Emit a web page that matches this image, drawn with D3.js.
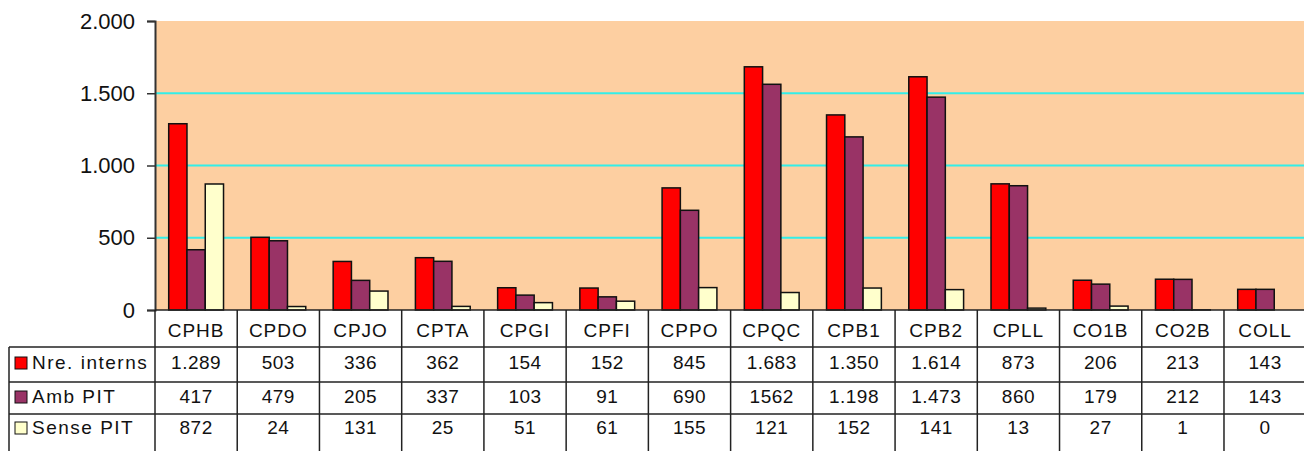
<!DOCTYPE html>
<html lang="ca">
<head>
<meta charset="utf-8" />
<title>Interns per centre</title>
<script src="https://cdn.jsdelivr.net/npm/d3@7"></script>
<style>
  body { margin: 0; background: #fff; }
  svg text { font-family: "Liberation Sans", Arial, sans-serif; fill: #111; }
</style>
</head>
<body>
<svg id="chart" width="1304" height="451"></svg>
<script>
// dades
var categories = ["CPHB", "CPDO", "CPJO", "CPTA", "CPGI", "CPFI", "CPPO", "CPQC", "CPB1", "CPB2", "CPLL", "CO1B", "CO2B", "COLL"];
var seriesNames = ["Nre. interns", "Amb PIT", "Sense PIT"];
var nreInterns = [1289, 503, 336, 362, 154, 152, 845, 1683, 1350, 1614, 873, 206, 213, 143];
var ambPIT     = [417, 479, 205, 337, 103, 91, 690, 1562, 1198, 1473, 860, 179, 212, 143];
var sensePIT   = [872, 24, 131, 25, 51, 61, 155, 121, 152, 141, 13, 27, 1, 0];
var yTicks = [0, 500, 1000, 1500, 2000];
// the source table prints this one value without a thousands dot
var ungrouped = { "Amb PIT": ["CPQC"] };

var colors = ["#ff0000", "#993366", "#ffffcc"];
var seriesValues = [nreInterns, ambPIT, sensePIT];

var svg = d3.select("#chart");
// ("top" is taken by window.top, so plot* names)
var plotLeft = 155, plotTop = 21, plotBottom = 310, colW = 82.23;

var locale = d3.formatLocale({ decimal: ",", thousands: ".", grouping: [3], currency: ["", ""] });
var fmt = locale.format(",d");

var x0 = d3.scaleBand().domain(categories).range([plotLeft, plotLeft + colW * categories.length]);
var barW = x0.bandwidth() / 4.5;
var x1 = d3.scaleBand().domain(seriesNames).range([0.75 * barW, 3.75 * barW]);
var y = d3.scaleLinear().domain([0, 2000]).range([plotBottom, plotTop]);

// fons del plot
svg.append("rect")
    .attr("x", plotLeft).attr("y", plotTop)
    .attr("width", 1304 - plotLeft).attr("height", plotBottom - plotTop)
    .attr("fill", "#fdcfa1");

// línies de la graella
svg.selectAll("line.grid")
    .data(yTicks.filter(function (d) { return d > 0 && d < 2000; }))
  .enter().append("line")
    .attr("class", "grid")
    .attr("x1", plotLeft).attr("x2", 1304)
    .attr("y1", function (d) { return y(d); })
    .attr("y2", function (d) { return y(d); })
    .attr("stroke", "#33eee8").attr("stroke-width", 2);

// barres
var groups = svg.selectAll("g.cat")
    .data(categories)
  .enter().append("g")
    .attr("class", "cat")
    .attr("transform", function (d) { return "translate(" + x0(d) + ",0)"; });

groups.selectAll("rect")
    .data(function (c, i) {
        return seriesNames.map(function (s, k) { return { s: s, v: seriesValues[k][i], k: k }; })
            .filter(function (d) { return d.v > 0; });
    })
  .enter().append("rect")
    .attr("x", function (d) { return x1(d.s); })
    .attr("y", function (d) { return y(d.v); })
    .attr("width", x1.bandwidth())
    .attr("height", function (d) { return plotBottom - y(d.v); })
    .attr("fill", function (d) { return colors[d.k]; })
    .attr("stroke", "#111").attr("stroke-width", 1.5);

// eix Y
var yAxis = d3.axisLeft(y).tickValues(yTicks).tickSize(8).tickPadding(12)
    .tickFormat(function (d) { return fmt(d); });
var ya = svg.append("g")
    .attr("transform", "translate(" + plotLeft + ",0)")
    .call(yAxis);
ya.select(".domain").attr("stroke", "#333").attr("stroke-width", 2);
ya.selectAll(".tick line").attr("stroke", "#333").attr("stroke-width", 1.5);
ya.selectAll(".tick text")
    .attr("font-size", 22)
    .attr("font-family", "Liberation Sans, Arial, sans-serif")
    .attr("fill", "#222");

// taula de dades
var rowTops = [310, 347, 382, 414];
var rowBase = [337, 369, 403, 434];
var tableRight = 1306;
var table = svg.append("g").attr("stroke", "#222").attr("stroke-width", 1.5);

// línies horitzontals
table.append("line").attr("x1", plotLeft).attr("x2", tableRight).attr("y1", plotBottom).attr("y2", plotBottom);
rowTops.slice(1).forEach(function (t) {
    table.append("line").attr("x1", 9).attr("x2", tableRight).attr("y1", t).attr("y2", t);
});
// línies verticals
table.append("line").attr("x1", 9).attr("x2", 9).attr("y1", rowTops[1]).attr("y2", 451);
categories.forEach(function (c) {
    table.append("line").attr("x1", x0(c)).attr("x2", x0(c)).attr("y1", plotBottom).attr("y2", 451);
});

// capçaleres de categoria
svg.selectAll("text.cat")
    .data(categories)
  .enter().append("text")
    .attr("class", "cat")
    .attr("x", function (d) { return x0(d) + x0.bandwidth() / 2; })
    .attr("y", rowBase[0])
    .attr("text-anchor", "middle")
    .attr("font-size", 19)
    .attr("letter-spacing", 1)
    .text(function (d) { return d; });

// files de la taula
seriesNames.forEach(function (s, k) {
    var yb = rowBase[k + 1];
    svg.append("rect")
        .attr("x", 15).attr("y", yb - 12)
        .attr("width", 12).attr("height", 12)
        .attr("fill", colors[k]).attr("stroke", "#111").attr("stroke-width", 1);
    svg.append("text")
        .attr("x", 32).attr("y", yb)
        .attr("font-size", 19)
        .attr("letter-spacing", 1.5)
        .text(s);
    svg.selectAll("text.v" + k)
        .data(categories)
      .enter().append("text")
        .attr("class", "v" + k)
        .attr("x", function (d) { return x0(d) + x0.bandwidth() / 2; })
        .attr("y", yb)
        .attr("text-anchor", "middle")
        .attr("font-size", 19)
        .attr("letter-spacing", 0.5)
        .text(function (d, i) {
            var v = seriesValues[k][i];
            var raw = ungrouped[s] && ungrouped[s].indexOf(d) >= 0;
            return raw ? String(v) : fmt(v);
        });
});
</script>
</body>
</html>
